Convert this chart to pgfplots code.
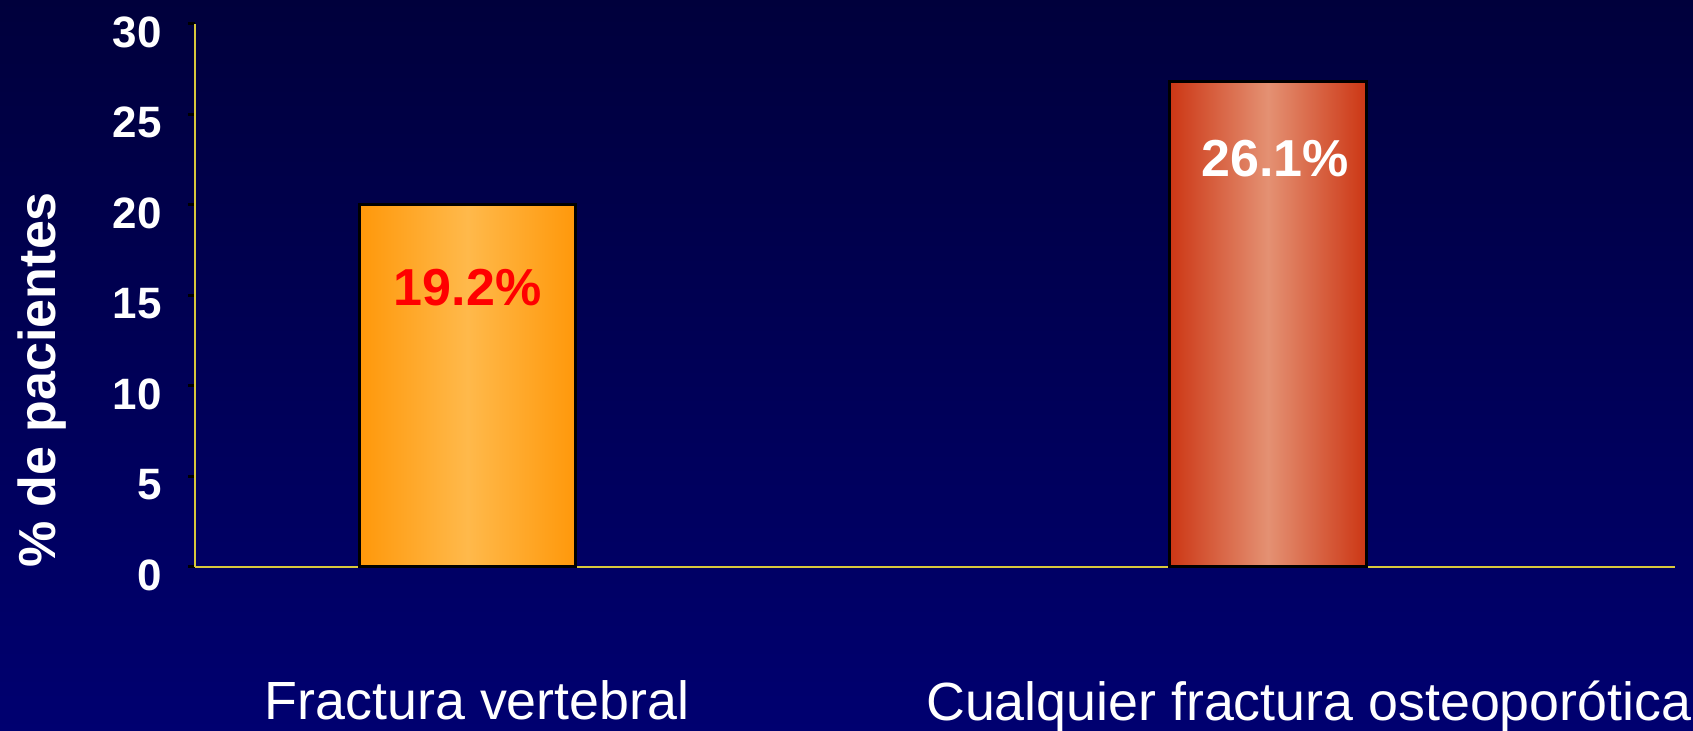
\documentclass[border=0pt]{standalone}
\usepackage{pgfplots}
\pgfplotsset{compat=1.18}
\usepackage{fontspec}
\setmainfont{Liberation Sans}
\definecolor{bgtop}{RGB}{0,0,60}
\definecolor{bgbot}{RGB}{0,0,112}
\definecolor{axisyellow}{RGB}{215,200,60}
\definecolor{org}{RGB}{255,152,10}
\definecolor{orgl}{RGB}{255,185,75}
\definecolor{rd}{RGB}{204,54,20}
\definecolor{rdl}{RGB}{228,145,115}
\begin{document}
\begin{tikzpicture}
\path[use as bounding box, top color=bgtop, bottom color=bgbot] (0,0) rectangle (16.93cm,7.31cm);
\begin{axis}[
  at={(1.954cm,1.642cm)}, anchor=south west,
  scale only axis, width=14.80cm, height=5.43cm,
  xmin=-0.34, xmax=1.509, ymin=0, ymax=30,
  axis lines*=left,
  axis line style={draw=axisyellow, line width=0.6pt},
  ytick={0,5,...,30},
  xtick={0.012,1.051},
  xticklabels={Fractura vertebral, Cualquier fractura osteopor\'otica},
  x tick style={draw=none},
  y tick style={draw=black, line width=0.8pt},
  tick align=outside,
  major tick length=0.07cm,
  /pgf/number format/assume math mode=true,
  yticklabel style={font=\fontsize{12.5}{14}\selectfont\bfseries, text=white, anchor=east, inner sep=0pt, xshift=-0.26cm, yshift=-0.085cm},
  xticklabel style={font=\fontsize{15.3}{18}\selectfont, text=white, anchor=north, inner sep=0pt, yshift=-1.06cm},
  ylabel={\% de pacientes},
  every axis y label/.style={at={(axis description cs:-0.1035,0.344)}, rotate=90, anchor=center},
  ylabel style={font=\fontsize{14.8}{17}\selectfont\bfseries, text=white},
  clip=false,
]
\addplot[ybar, bar shift=0pt, bar width=0.27, draw=black, line width=0.8pt,
  left color=org, right color=org, middle color=orgl] coordinates {(0,20.0)};
\addplot[ybar, bar shift=0pt, bar width=0.247, draw=black, line width=0.8pt,
  left color=rd, right color=rd, middle color=rdl] coordinates {(1,26.8)};
\node[text=red, font=\fontsize{14.8}{17}\selectfont\bfseries] at (axis cs:0,15.44) {19.2\%};
\node[text=white, font=\fontsize{14.8}{17}\selectfont\bfseries] at (axis cs:1.009,22.54) {26.1\%};
\end{axis}
\end{tikzpicture}
\end{document}
